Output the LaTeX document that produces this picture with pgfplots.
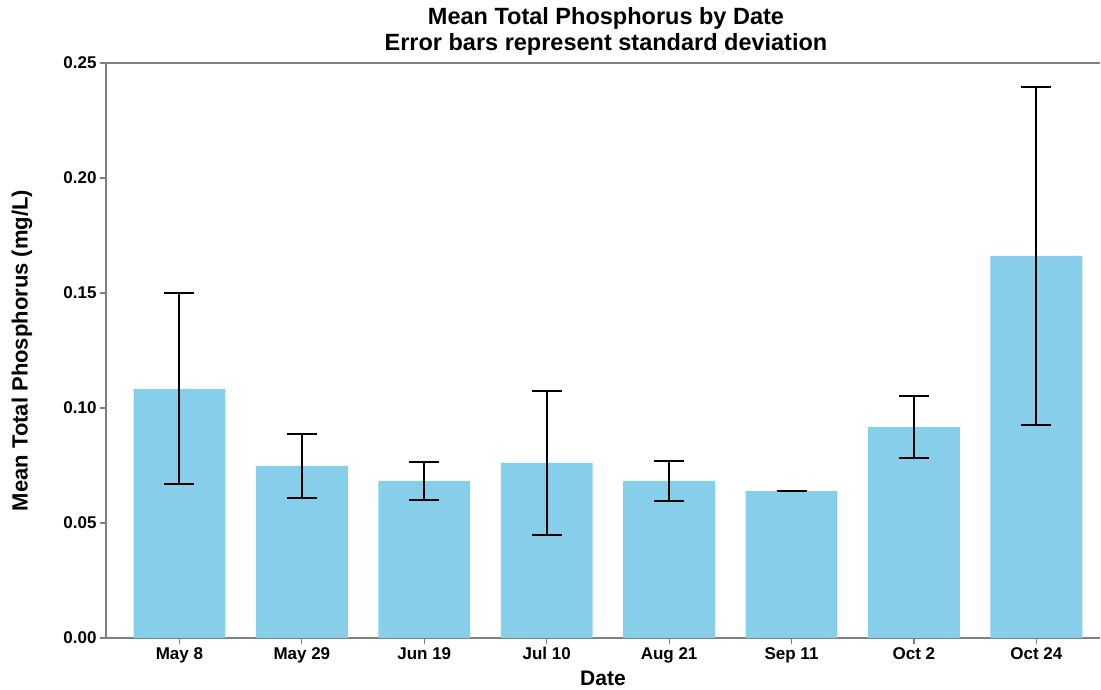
\documentclass[border=0pt]{standalone}
\usepackage{pgfplots}
\pgfplotsset{compat=1.18}
\usepackage{fontspec}
\setmainfont{Liberation Sans}
\definecolor{skyblue}{HTML}{87CEEB}
\definecolor{spine}{HTML}{808080}

\pgfplotstableread{
x y err
0 0.1083 0.0415
1 0.0748 0.0139
2 0.0683 0.0083
3 0.0761 0.0315
4 0.0683 0.0087
5 0.0639 0.0002
6 0.0917 0.0135
7 0.1661 0.0733
}\phos

\begin{document}
\begin{tikzpicture}
\begin{axis}[
    scale only axis,
    width=994pt, height=575pt,
    xmin=-0.6, xmax=7.52,
    ymin=0, ymax=0.25,
    axis lines*=left,
    axis line style={-, spine, line width=1.2pt},
    tick style={spine, line width=1.2pt},
    tick align=outside,
    major tick length=6pt,
    xtick pos=bottom, ytick pos=left,
    xtick=data,
    xticklabels={May 8, May 29, Jun 19, Jul 10, Aug 21, Sep 11, Oct 2, Oct 24},
    ytick={0,0.05,0.10,0.15,0.20,0.25},
    /pgf/number format/assume math mode=true,
    yticklabel style={/pgf/number format/.cd, fixed, fixed zerofill, precision=2},
    ticklabel style={font=\fontsize{17}{17}\selectfont\bfseries},
    xlabel={Date},
    ylabel={Mean Total Phosphorus (mg/L)},
    label style={font=\fontsize{21}{21}\selectfont\bfseries},
    xlabel style={at={(axis description cs:0.5,-0.0696)}, anchor=center},
    ylabel style={font=\fontsize{22}{22}\selectfont\bfseries,
        at={(axis description cs:-0.0845,0.5)}, anchor=center},
    title={Mean Total Phosphorus by Date\\Error bars represent standard deviation},
    title style={align=center, font=\fontsize{23.5}{26}\selectfont\bfseries,
        at={(axis description cs:0.503,1)}, anchor=south, yshift=-2pt},
]
\addplot[ybar, bar width=0.75, fill=skyblue, draw=none,
    error bars/.cd, y dir=both, y explicit,
    error bar style={black, line width=2pt},
    error mark options={rotate=90, mark size=15pt, line width=2pt, black}]
    table[x=x, y=y, y error=err] {\phos};
\draw[spine, line width=1.2pt] (rel axis cs:0,1) -- (rel axis cs:1,1);
\end{axis}
\path (current axis.south west) ++(-106pt,-52pt) (current axis.north east) ++(1pt,63pt);
\end{tikzpicture}
\end{document}
